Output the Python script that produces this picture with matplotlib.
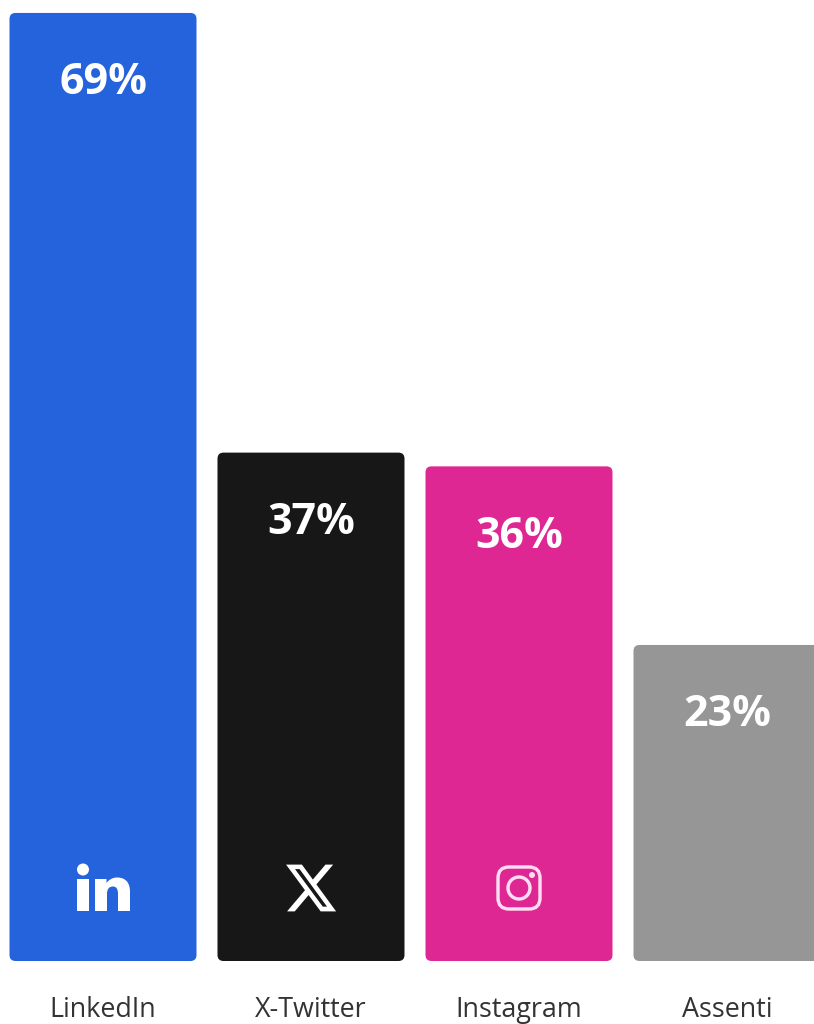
import matplotlib
matplotlib.use("Agg")
import matplotlib.pyplot as plt
from matplotlib.patches import FancyBboxPatch, Circle, PathPatch, Rectangle
from matplotlib.path import Path
from matplotlib.transforms import Affine2D

# Chart data
platforms = ["LinkedIn", "X-Twitter", "Instagram", "Assenti"]
shares = [69, 37, 36, 23]
bar_colors = ["#2563DC", "#171717", "#DF2793", "#969696"]

FONT = "Open Sans"
W, H = 814, 1024
BASE_PX = 961      # pixel row of the baseline
PX_PER_PCT = 13.74
PX_PER_BAR = 208
BAR_WIDTH = 187 / PX_PER_BAR
ROUND_PX = 6

fig = plt.figure(figsize=(W / 100, H / 100), dpi=100, facecolor="white")
ax = fig.add_axes([0, (H - BASE_PX) / H, 1, BASE_PX / H])
ax.set_xlim(-103 / PX_PER_BAR, (W - 103) / PX_PER_BAR)
ax.set_ylim(0, BASE_PX / PX_PER_PCT)
for side in ax.spines.values():
    side.set_visible(False)
ax.set_yticks([])

# Rounded bars, sized in data units
for i, (share, color) in enumerate(zip(shares, bar_colors)):
    bar = FancyBboxPatch(
        (i - BAR_WIDTH / 2, 0), BAR_WIDTH, share,
        boxstyle=f"round,pad=0,rounding_size={ROUND_PX / PX_PER_BAR}",
        mutation_aspect=PX_PER_BAR / PX_PER_PCT,
        facecolor=color, edgecolor="none",
    )
    ax.add_patch(bar)
    ax.annotate(f"{share}%", (i, share), xytext=(0, -50.3), textcoords="offset points",
                ha="center", va="center", color="white", fontsize=31,
                fontweight="bold", family=FONT)

ax.set_xticks(range(len(platforms)))
ax.set_xticklabels(platforms, family=FONT, fontsize=19.4, color="#333333")
ax.tick_params(axis="x", length=0, pad=25)


def icon_transform(i, y_px):
    # icon coordinates are pixels around the bar centre, y pointing down
    x0 = ax.transData.transform((i, 0))[0]
    return Affine2D().scale(1, -1).translate(x0, H - y_px)


# LinkedIn mark
in_tf = icon_transform(0, 888)
ax.add_patch(Rectangle((-26, -9), 12, 32, facecolor="white", edgecolor="none", transform=in_tf))
ax.add_patch(Circle((-20, -18.5), 6, facecolor="white", edgecolor="none", transform=in_tf))
n_verts = [(-8, 23), (-8, -9), (3.5, -9), (3.5, -5),
           (5.5, -8), (9.5, -10.5), (14, -10.5),
           (23, -10.5), (27, -5), (27, 4),
           (27, 23), (15, 23), (15, 6),
           (15, 1), (13.5, -1.5), (10, -1.5),
           (6, -1.5), (4, 1), (4, 6),
           (4, 23), (-8, 23)]
n_codes = [Path.MOVETO, Path.LINETO, Path.LINETO, Path.LINETO,
           Path.CURVE4, Path.CURVE4, Path.CURVE4,
           Path.CURVE4, Path.CURVE4, Path.CURVE4,
           Path.LINETO, Path.LINETO, Path.LINETO,
           Path.CURVE4, Path.CURVE4, Path.CURVE4,
           Path.CURVE4, Path.CURVE4, Path.CURVE4,
           Path.LINETO, Path.CLOSEPOLY]
ax.add_patch(PathPatch(Path(n_verts, n_codes), facecolor="white", edgecolor="none", transform=in_tf))

# X mark
x_verts = [(18.244, 2.25), (21.552, 2.25), (14.325, 10.51), (22.827, 21.75), (16.17, 21.75),
           (10.956, 14.933), (4.99, 21.75), (1.68, 21.75), (9.41, 12.915), (1.254, 2.25),
           (8.08, 2.25), (12.793, 8.481), (18.244, 2.25),
           (17.083, 19.77), (18.916, 19.77), (7.084, 4.126), (5.117, 4.126), (17.083, 19.77)]
x_codes = [Path.MOVETO] + [Path.LINETO] * 11 + [Path.CLOSEPOLY] + \
          [Path.MOVETO] + [Path.LINETO] * 3 + [Path.CLOSEPOLY]
x_tf = Affine2D().translate(-12, -12).scale(2.32, 2.4) + icon_transform(1, 888)
ax.add_patch(PathPatch(Path(x_verts, x_codes), facecolor="white", edgecolor="none", transform=x_tf))

# Instagram mark
insta_color = "#FDDDF2"
ig_tf = icon_transform(2, 888)
lw = 3.4 * 72 / 100
ax.add_patch(FancyBboxPatch((-21, -21), 42, 42, boxstyle="round,pad=0,rounding_size=11",
                            facecolor="none", edgecolor=insta_color, linewidth=lw, transform=ig_tf))
ax.add_patch(Circle((0, 0), 11, facecolor="none", edgecolor=insta_color, linewidth=lw, transform=ig_tf))
ax.add_patch(Circle((13, -13), 3, facecolor=insta_color, edgecolor="none", transform=ig_tf))

fig.savefig("out.png", dpi=100, facecolor="white")
